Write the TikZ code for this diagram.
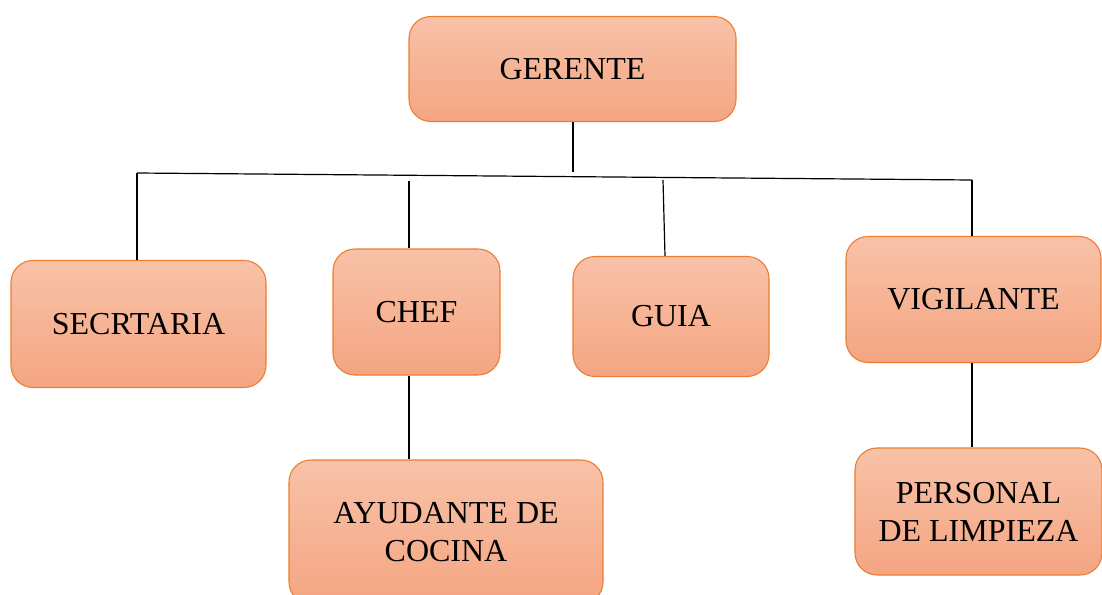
\documentclass[tikz,border=0pt]{standalone}
\usepackage{fontspec}
\setmainfont{Liberation Serif}
\definecolor{boxtop}{HTML}{F8C2A8}
\definecolor{boxbot}{HTML}{F4A582}
\definecolor{boxline}{HTML}{ED7D31}
\begin{document}
\begin{tikzpicture}[x=1pt,y=-1pt,
  orgbox/.style={draw=boxline, line width=1.1pt, rounded corners=22pt,
    top color=boxtop, bottom color=boxbot, inner sep=0pt, align=center,
    font=\fontsize{32}{38}\selectfont},
  link/.style={draw=black, line width=1.2pt}]
\useasboundingbox (0,0) rectangle (1102,594);
\node[orgbox, minimum width=327pt, minimum height=105pt] (ger) at (572.5,69) {GERENTE};
\node[orgbox, minimum width=255pt, minimum height=127pt] (sec) at (138.5,324) {SECRTARIA};
\node[orgbox, minimum width=167pt, minimum height=126pt] (chef) at (416.5,312) {CHEF};
\node[orgbox, minimum width=196pt, minimum height=120pt] (gui) at (671,316.5) {GUIA};
\node[orgbox, minimum width=255pt, minimum height=126pt] (vig) at (973.5,299.5) {VIGILANTE};
\node[orgbox, minimum width=314pt, minimum height=144pt] (ayu) at (446,532) {AYUDANTE DE\\COCINA};
\node[orgbox, minimum width=247pt, minimum height=127pt] (per) at (978.5,511.5) {PERSONAL\\DE LIMPIEZA};
\coordinate (bl) at (137,173);
\coordinate (br) at (972,180);
\coordinate (bm) at (573,172);
\coordinate (c1) at (409,181);
\coordinate (g1) at (663,180);
\coordinate (g2) at ([xshift=-6pt]gui.north);
\draw[link] (ger.south -| bm) -- (bm);
\draw[link] (bl) -- (br);
\draw[link] (bl) -- (bl |- sec.north);
\draw[link] (c1) -- (c1 |- chef.north);
\draw[link] (g1) -- (g2);
\draw[link] (br) -- (br |- vig.north);
\draw[link] (c1 |- chef.south) -- (c1 |- ayu.north);
\draw[link] (br |- vig.south) -- (br |- per.north);
\end{tikzpicture}
\end{document}
